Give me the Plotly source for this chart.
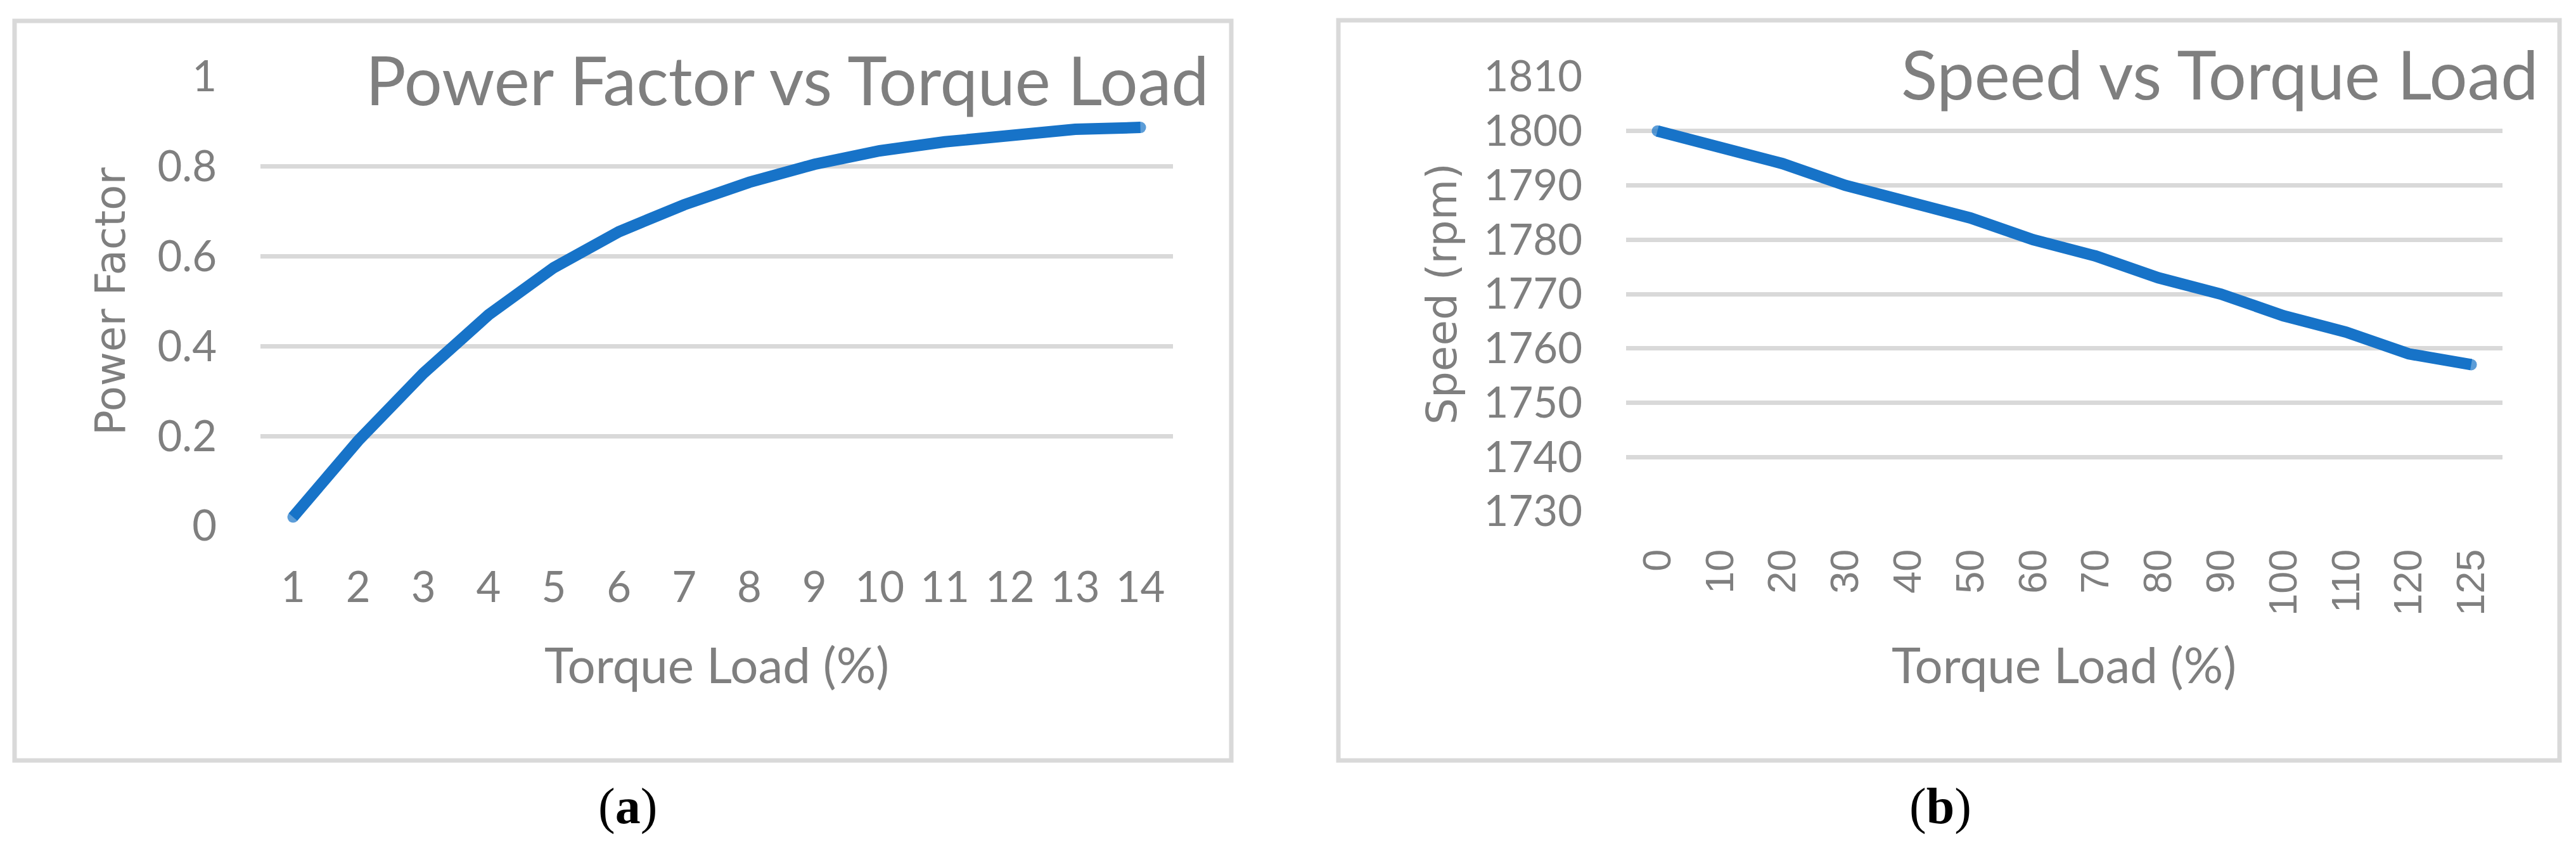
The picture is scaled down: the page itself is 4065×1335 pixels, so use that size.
import plotly.graph_objects as go

# ---------------- data ----------------
pf_load = ["1", "2", "3", "4", "5", "6", "7", "8", "9", "10", "11", "12", "13", "14"]
pf_values = [0.02, 0.19, 0.34, 0.47, 0.575, 0.655, 0.715, 0.765, 0.805, 0.835, 0.855, 0.87, 0.883, 0.887]

sp_load = ["0", "10", "20", "30", "40", "50", "60", "70", "80", "90", "100", "110", "120", "125"]
sp_values = [1800, 1797, 1794, 1790, 1787, 1784, 1780, 1777, 1773, 1770, 1766, 1763, 1759, 1757]

title_a = "Power Factor vs Torque Load"
title_b = "Speed vs Torque Load"
xlabel = "Torque Load (%)"
ylabel_a = "Power Factor"
ylabel_b = "Speed (rpm)"

# ---------------- style ----------------
W, H = 4065, 1335
GRAY = "#7f7f7f"
GRID = "#d9d9d9"
BLUE = "#1773c8"
SANS = "Lato, 'Open Sans', sans-serif"
WIDE = "'DejaVu Sans', Verdana, sans-serif"


def px(x):
    return x / W


def py(y):
    return 1 - y / H


fig = go.Figure()

ends_a = [18 if i in (0, len(pf_values) - 1) else 0 for i in range(len(pf_values))]
ends_b = [18 if i in (0, len(sp_values) - 1) else 0 for i in range(len(sp_values))]

fig.add_trace(go.Scatter(x=pf_load, y=pf_values, mode="lines+markers",
                         line=dict(color=BLUE, width=18),
                         marker=dict(color=BLUE, size=ends_a, line=dict(width=0)),
                         xaxis="x", yaxis="y", showlegend=False, cliponaxis=False))
fig.add_trace(go.Scatter(x=sp_load, y=sp_values, mode="lines+markers",
                         line=dict(color=BLUE, width=18),
                         marker=dict(color=BLUE, size=ends_b, line=dict(width=0)),
                         xaxis="x2", yaxis="y2", showlegend=False, cliponaxis=False))

common_x = dict(type="category", showgrid=False, zeroline=False, showline=False,
                ticks="", range=[-0.5, 13.5], fixedrange=True, automargin=False)
common_y = dict(showgrid=True, gridcolor=GRID, gridwidth=7, zeroline=False,
                showline=False, ticks="", fixedrange=True, automargin=False)

fig.update_layout(
    template="none",
    width=W, height=H, autosize=False,
    margin=dict(l=0, r=0, t=0, b=0, pad=0),
    paper_bgcolor="white", plot_bgcolor="white",
    xaxis=dict(**common_x, domain=[px(411), px(1851)], anchor="y",
               tickfont=dict(family=SANS, size=67, color=GRAY), ticklabelstandoff=52),
    yaxis=dict(**common_y, domain=[py(830), py(121)], anchor="x", range=[0, 1], dtick=0.2,
               tickfont=dict(family=SANS, size=67, color=GRAY), ticklabelstandoff=68),
    xaxis2=dict(**common_x, domain=[px(2566), px(3949)], anchor="y2", tickangle=-90,
                tickfont=dict(family="'Liberation Sans', Arial, sans-serif", size=63, color=GRAY),
                ticklabelstandoff=46),
    yaxis2=dict(**common_y, domain=[py(807), py(121)], anchor="x2", range=[1730, 1810], dtick=10,
                tickfont=dict(family=SANS, size=67, color=GRAY), ticklabelstandoff=68),
)

shapes = []
for (x0, y0, x1, y1) in [(23, 33, 1943, 1200), (2112, 32, 4039, 1200)]:
    shapes.append(dict(type="rect", xref="paper", yref="paper",
                       x0=px(x0), x1=px(x1), y0=py(y1), y1=py(y0),
                       line=dict(color=GRID, width=7), fillcolor="rgba(0,0,0,0)", layer="below"))
fig.update_layout(shapes=shapes)

ann = []
# chart titles (right aligned)
ann.append(dict(text=title_a, x=px(1910), y=py(125), xanchor="right", yanchor="middle",
                font=dict(family=SANS, size=106, color=GRAY)))
ann.append(dict(text=title_b, x=px(4008), y=py(116), xanchor="right", yanchor="middle",
                font=dict(family=SANS, size=106, color=GRAY)))
# x-axis titles
ann.append(dict(text=xlabel, x=px(1131), y=py(1048), xanchor="center", yanchor="middle",
                font=dict(family=SANS, size=78, color=GRAY)))
ann.append(dict(text=xlabel, x=px(3257), y=py(1048), xanchor="center", yanchor="middle",
                font=dict(family=SANS, size=78, color=GRAY)))
# y-axis titles
ann.append(dict(text=ylabel_a, x=px(175), y=py(476), xanchor="center", yanchor="middle",
                textangle=-90, font=dict(family=WIDE, size=66, color=GRAY)))
ann.append(dict(text=ylabel_b, x=px(2275), y=py(464), xanchor="center", yanchor="middle",
                textangle=-90, font=dict(family=WIDE, size=66, color=GRAY)))
# captions
ann.append(dict(text="(<b>a</b>)", x=px(990), y=py(1272), xanchor="center", yanchor="middle",
                font=dict(family="'Liberation Serif', 'Times New Roman', serif", size=80, color="black")))
ann.append(dict(text="(<b>b</b>)", x=px(3062), y=py(1272), xanchor="center", yanchor="middle",
                font=dict(family="'Liberation Serif', 'Times New Roman', serif", size=80, color="black")))
for a in ann:
    a.update(xref="paper", yref="paper", showarrow=False)
fig.update_layout(annotations=ann)

fig.write_html("out.html", config={"displayModeBar": False, "staticPlot": True},
               post_script="document.body.style.margin='0px';")
